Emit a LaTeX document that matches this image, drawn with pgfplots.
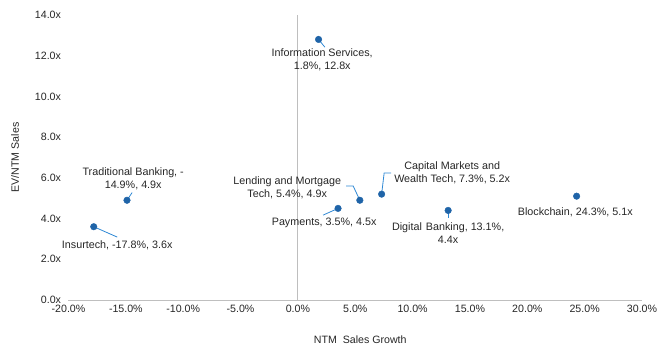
\documentclass[border=0pt]{standalone}
\usepackage{pgfplots}
\pgfplotsset{compat=1.18}
\usepackage{fontspec}
\setmainfont{Liberation Sans}
\definecolor{dotblue}{HTML}{1F64A8}
\definecolor{leadblue}{HTML}{2E88D4}
\definecolor{axgray}{HTML}{BFBFBF}
\definecolor{txt}{HTML}{262626}
\tikzset{lbl/.style={align=center, font=\fontsize{10.8}{13}\selectfont, text=txt, inner sep=0pt}}
\begin{document}
\begin{tikzpicture}
\begin{axis}[
  scale only axis, width=573.5bp, height=285bp,
  xmin=-20, xmax=30, ymin=0, ymax=14,
  axis x line*=bottom, axis y line*=left,
  x axis line style={axgray, line width=0.8bp, -},
  y axis line style={draw=none},
  xtick distance=5,
  ytick={0,2,...,14},
  major tick length=0,
  /pgf/number format/assume math mode=true,
  xticklabel={\pgfmathprintnumber[fixed,fixed zerofill,precision=1]{\tick}\%},
  yticklabel={\pgfmathprintnumber[fixed,fixed zerofill,precision=1]{\tick}x},
  tick label style={font=\fontsize{10.67}{12}\selectfont, text=txt},
  xticklabel style={yshift=-2bp},
  yticklabel style={xshift=-4bp},
  xlabel={NTM\ \ Sales Growth},
  ylabel={EV/NTM Sales},
  label style={font=\fontsize{10.67}{12}\selectfont, text=txt},
  xlabel style={at={(axis description cs:0.5,0)}, anchor=center, yshift=-40bp, xshift=5bp},
  ylabel style={at={(axis description cs:0,0.5)}, anchor=center, yshift=53.5bp},
  clip=false,
]
\coordinate (bl) at (rel axis cs:0,0);
\draw[axgray!85!black!70, line width=0.8bp] (axis cs:0,0) -- (axis cs:0,14);
% leader lines
\begin{scope}[leadblue, line width=0.8bp]
\draw (axis cs:1.8,12.8) -- (axis cs:2.35,12.42);
\draw (axis cs:-14.9,4.9) -- (axis cs:-14.45,5.28);
\draw (axis cs:-17.8,3.6) -- (axis cs:-15.75,3.09);
\draw (axis cs:5.4,4.9) -- (axis cs:4.82,5.6) -- (axis cs:4.21,5.6);
\draw (axis cs:3.5,4.5) -- (axis cs:2.2,4.17);
\draw (axis cs:7.3,5.2) -- (axis cs:7.52,6.24) -- (axis cs:8.13,6.24);
\draw (axis cs:13.1,4.4) -- (axis cs:13.1,4.03);
\end{scope}
\addplot[only marks, mark=*, mark size=3.3bp, mark options={fill=dotblue, draw=dotblue}] coordinates {
 (1.8,12.8) (-14.9,4.9) (-17.8,3.6) (5.4,4.9) (3.5,4.5) (7.3,5.2) (13.1,4.4) (24.3,5.1)
};
\node[lbl] at (axis cs:2.12,11.79) {Information Services,\\1.8\%, 12.8x};
\node[lbl] at (axis cs:-14.36,5.94) {Traditional Banking, -\\14.9\%, 4.9x};
\node[lbl] at (axis cs:-15.75,2.70) {Insurtech, -17.8\%, 3.6x};
\node[lbl] at (axis cs:-0.93,5.53) {Lending and Mortgage\\Tech, 5.4\%, 4.9x};
\node[lbl] at (axis cs:2.29,3.78) {Payments, 3.5\%, 4.5x};
\node[lbl] at (axis cs:13.45,6.24) {Capital Markets and\\Wealth Tech, 7.3\%, 5.2x};
\node[lbl] at (axis cs:13.1,3.29) {Digital\hspace{1bp} Banking, 13.1\%,\\4.4x};
\node[lbl] at (axis cs:24.18,4.32) {Blockchain, 24.3\%, 5.1x};
\end{axis}
\pgfresetboundingbox
\path[use as bounding box] (bl) ++(-68.5bp,-51bp) rectangle ++(671bp,351bp);
\end{tikzpicture}
\end{document}
